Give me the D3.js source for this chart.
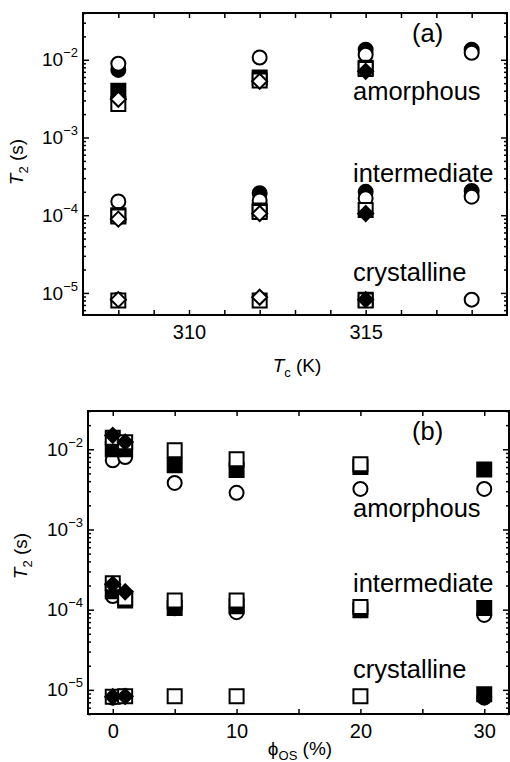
<!DOCTYPE html>
<html>
<head>
<meta charset="utf-8">
<script src="https://cdn.jsdelivr.net/npm/d3@7"></script>
<style>
  body { margin: 0; background: #fff; }
  svg { display: block; font-family: "Liberation Sans", Arial, Helvetica, sans-serif; }
</style>
</head>
<body>
<div id="chart"></div>
<script>
// donnees

// panneau (a) : T2 en fonction de Tc
const tcValues = [308, 312, 315, 318];
const tcTicks = [308, 309, 310, 311, 312, 313, 314, 315, 316, 317, 318];
const tcLabels = [310, 315];

const aOpenCircle = {
    amorphous: [8.9e-3, 1.07e-2, 1.16e-2, 1.23e-2],
    intermediate: [1.5e-4, 1.55e-4, 1.65e-4, 1.73e-4],
    crystalline: [8.2e-6, null, null, 8.2e-6]
};
const aFilledCircle = {
    amorphous: [7.4e-3, null, 1.35e-2, 1.35e-2],
    intermediate: [null, 1.92e-4, 2.0e-4, 2.05e-4],
    crystalline: [null, null, null, null]
};
const aFilledSquare = {
    amorphous: [4.0e-3, 5.9e-3, 7.9e-3, null],
    intermediate: [1.0e-4, 1.15e-4, null, null],
    crystalline: [null, null, 8.2e-6, null]
};
const aOpenSquare = {
    amorphous: [2.7e-3, 5.4e-3, 7.6e-3, null],
    intermediate: [9.6e-5, 1.1e-4, 1.17e-4, null],
    crystalline: [8.0e-6, 8.0e-6, 8.0e-6, null]
};
const aOpenDiamond = {
    amorphous: [3.1e-3, 5.3e-3, null, null],
    intermediate: [8.9e-5, 1.05e-4, null, null],
    crystalline: [8.2e-6, 8.8e-6, null, null]
};
const aFilledDiamond = {
    amorphous: [null, null, 7.1e-3, null],
    intermediate: [null, null, 1.05e-4, null],
    crystalline: [null, null, 8.2e-6, null]
};

// panneau (b) : T2 en fonction de phi_OS
const phiValues = [0, 1, 5, 10, 20, 30];
const phiTicks = [0, 5, 10, 15, 20, 25, 30];
const phiLabels = [0, 10, 20, 30];

const bOpenCircle = {
    amorphous: [7.3e-3, 8.0e-3, 3.8e-3, 2.86e-3, 3.2e-3, 3.2e-3],
    intermediate: [1.48e-4, null, null, 9.3e-5, 9.8e-5, 8.6e-5],
    crystalline: [8.0e-6, 8.3e-6, null, null, null, null]
};
const bFilledCircle = {
    amorphous: [null, null, null, null, null, null],
    intermediate: [null, null, 1.04e-4, 1.0e-4, null, null],
    crystalline: [null, null, null, null, null, 8.0e-6]
};
const bFilledSquare = {
    amorphous: [1.0e-2, 1.0e-2, 6.3e-3, 5.5e-3, 6.0e-3, 5.6e-3],
    intermediate: [1.7e-4, 1.3e-4, 1.05e-4, 1.1e-4, 9.8e-5, 1.05e-4],
    crystalline: [null, null, null, null, null, 8.8e-6]
};
const bOpenSquare = {
    amorphous: [1.39e-2, 1.22e-2, 9.7e-3, 7.5e-3, 6.5e-3, null],
    intermediate: [2.14e-4, 1.38e-4, 1.3e-4, 1.3e-4, 1.08e-4, null],
    crystalline: [8.2e-6, 8.3e-6, 8.3e-6, 8.3e-6, 8.3e-6, null]
};
const bFilledDiamond = {
    amorphous: [1.49e-2, 1.23e-2, null, null, null, null],
    intermediate: [2.07e-4, 1.67e-4, null, null, null, null],
    crystalline: [8.2e-6, 8.3e-6, null, null, null, null]
};

const regimes = ["amorphous", "intermediate", "crystalline"];
const decades = [1e-5, 1e-4, 1e-3, 1e-2];

const width = 510, height = 762;

const svg = d3.select("#chart").append("svg")
    .attr("width", width)
    .attr("height", height);

// formes des marqueurs
function markerPath(shape) {
    const p = d3.path();
    if (shape === "circle") {
        p.arc(0, 0, 7, 0, 2 * Math.PI);
    } else if (shape === "square") {
        p.rect(-7, -7, 14, 14);
    } else {
        p.moveTo(0, -7.5); p.lineTo(7.5, 0); p.lineTo(0, 7.5); p.lineTo(-7.5, 0); p.closePath();
    }
    return p.toString();
}

function drawPanel(cfg) {
    const x = d3.scaleLinear().domain(cfg.xDomain).range([cfg.left, cfg.right]);
    const y = d3.scaleLog().domain(cfg.yDomain).range([cfg.bottom, cfg.top]);
    const g = svg.append("g");

    // graduations mineures (log)
    const minor = y.ticks().filter(v => decades.indexOf(+v.toPrecision(3)) < 0);
    g.append("g").attr("transform", "translate(" + cfg.left + ",0)")
        .call(d3.axisLeft(y).tickValues(minor).tickSize(-3).tickFormat(""));
    g.append("g").attr("transform", "translate(" + cfg.right + ",0)")
        .call(d3.axisRight(y).tickValues(minor).tickSize(-3).tickFormat(""));

    // graduations majeures avec etiquettes 10^n
    const yAxis = g.append("g").attr("transform", "translate(" + cfg.left + ",0)")
        .call(d3.axisLeft(y).tickValues(decades).tickSize(-6).tickPadding(5).tickFormat(""));
    yAxis.selectAll(".tick text").each(function(d) {
        const t = d3.select(this)
            .attr("dy", "0.32em")
            .style("font-size", "19px")
            .attr("fill", "#000");
        t.append("tspan").text("10");
        t.append("tspan").attr("dy", "-9").style("font-size", "13px")
            .text("\u2212" + Math.round(-Math.log10(d)));
    });
    g.append("g").attr("transform", "translate(" + cfg.right + ",0)")
        .call(d3.axisRight(y).tickValues(decades).tickSize(-6).tickFormat(""));

    // axe x
    const xAxis = g.append("g").attr("transform", "translate(0," + cfg.bottom + ")")
        .call(d3.axisBottom(x).tickValues(cfg.xTicks).tickSize(-5).tickPadding(10)
            .tickFormat(d => cfg.xLabels.indexOf(d) >= 0 ? d : ""));
    xAxis.selectAll(".tick text").style("font-size", "20px").attr("fill", "#000");
    g.append("g").attr("transform", "translate(0," + cfg.top + ")")
        .call(d3.axisTop(x).tickValues(cfg.xTicks).tickSize(-5).tickFormat(""));

    g.selectAll(".domain").remove();
    g.selectAll(".tick line").attr("stroke", "#000").attr("stroke-width", 1.5);

    // cadre
    g.append("rect")
        .attr("x", cfg.left).attr("y", cfg.top)
        .attr("width", cfg.right - cfg.left).attr("height", cfg.bottom - cfg.top)
        .attr("fill", "none").attr("stroke", "#000").attr("stroke-width", 2);

    // marqueurs (ouverts = fond blanc)
    cfg.series.forEach(s => {
        regimes.forEach(r => {
            const pts = cfg.xValues.map((xv, i) => [xv, s.values[r][i]]).filter(p => p[1] != null);
            g.selectAll(null)
                .data(pts)
                .enter().append("path")
                .attr("d", markerPath(s.shape))
                .attr("transform", d => "translate(" + x(d[0]) + "," + y(d[1]) + ")")
                .attr("fill", s.filled ? "#000" : "#fff")
                .attr("stroke", "#000")
                .attr("stroke-width", 2);
        });
    });

    // annotations
    const notes = [["amorphous", cfg.noteY[0]], ["intermediate", cfg.noteY[1]], ["crystalline", cfg.noteY[2]]];
    notes.forEach(n => {
        g.append("text").attr("x", 353).attr("y", n[1])
            .style("font-size", "25.5px").text(n[0]);
    });
    g.append("text").attr("x", 412).attr("y", cfg.tagY)
        .style("font-size", "25.5px").text(cfg.tag);

    // titre axe y : T2 (s)
    const yl = g.append("text")
        .attr("transform", "translate(" + cfg.yLabelX + "," + cfg.yLabelY + ") rotate(-90)")
        .attr("text-anchor", "middle")
        .style("font-size", "19px");
    yl.append("tspan").style("font-style", "italic").text("T");
    yl.append("tspan").attr("dy", 5).style("font-size", "13px").text("2");
    yl.append("tspan").attr("dy", -5).text(" (s)");

    return g;
}

drawPanel({
    left: 83, right: 507, top: 13, bottom: 315,
    xDomain: [307, 319], yDomain: [5.2e-6, 4e-2],
    xTicks: tcTicks, xLabels: tcLabels, xValues: tcValues,
    series: [
        { shape: "circle", filled: true, values: aFilledCircle },
        { shape: "circle", filled: false, values: aOpenCircle },
        { shape: "square", filled: true, values: aFilledSquare },
        { shape: "square", filled: false, values: aOpenSquare },
        { shape: "diamond", filled: true, values: aFilledDiamond },
        { shape: "diamond", filled: false, values: aOpenDiamond }
    ],
    noteY: [100, 182, 281], tag: "(a)", tagY: 42,
    yLabelX: 23, yLabelY: 162
});

drawPanel({
    left: 88, right: 509, top: 411, bottom: 714,
    xDomain: [-2, 32], yDomain: [5e-6, 3e-2],
    xTicks: phiTicks, xLabels: phiLabels, xValues: phiValues,
    series: [
        { shape: "circle", filled: true, values: bFilledCircle },
        { shape: "circle", filled: false, values: bOpenCircle },
        { shape: "square", filled: true, values: bFilledSquare },
        { shape: "square", filled: false, values: bOpenSquare },
        { shape: "diamond", filled: true, values: bFilledDiamond }
    ],
    noteY: [517, 592, 678], tag: "(b)", tagY: 440,
    yLabelX: 27, yLabelY: 556
});

// titres des axes x
const xl1 = svg.append("text").attr("x", 297).attr("y", 372)
    .attr("text-anchor", "middle").style("font-size", "19px");
xl1.append("tspan").style("font-style", "italic").text("T");
xl1.append("tspan").attr("dy", 5).style("font-size", "13px").text("c");
xl1.append("tspan").attr("dy", -5).text(" (K)");

const xl2 = svg.append("text").attr("x", 300).attr("y", 755)
    .attr("text-anchor", "middle").style("font-size", "19px");
xl2.append("tspan").text("\u03d5");
xl2.append("tspan").attr("dy", 5).style("font-size", "13px").text("OS");
xl2.append("tspan").attr("dy", -5).text(" (%)");
</script>
</body>
</html>
